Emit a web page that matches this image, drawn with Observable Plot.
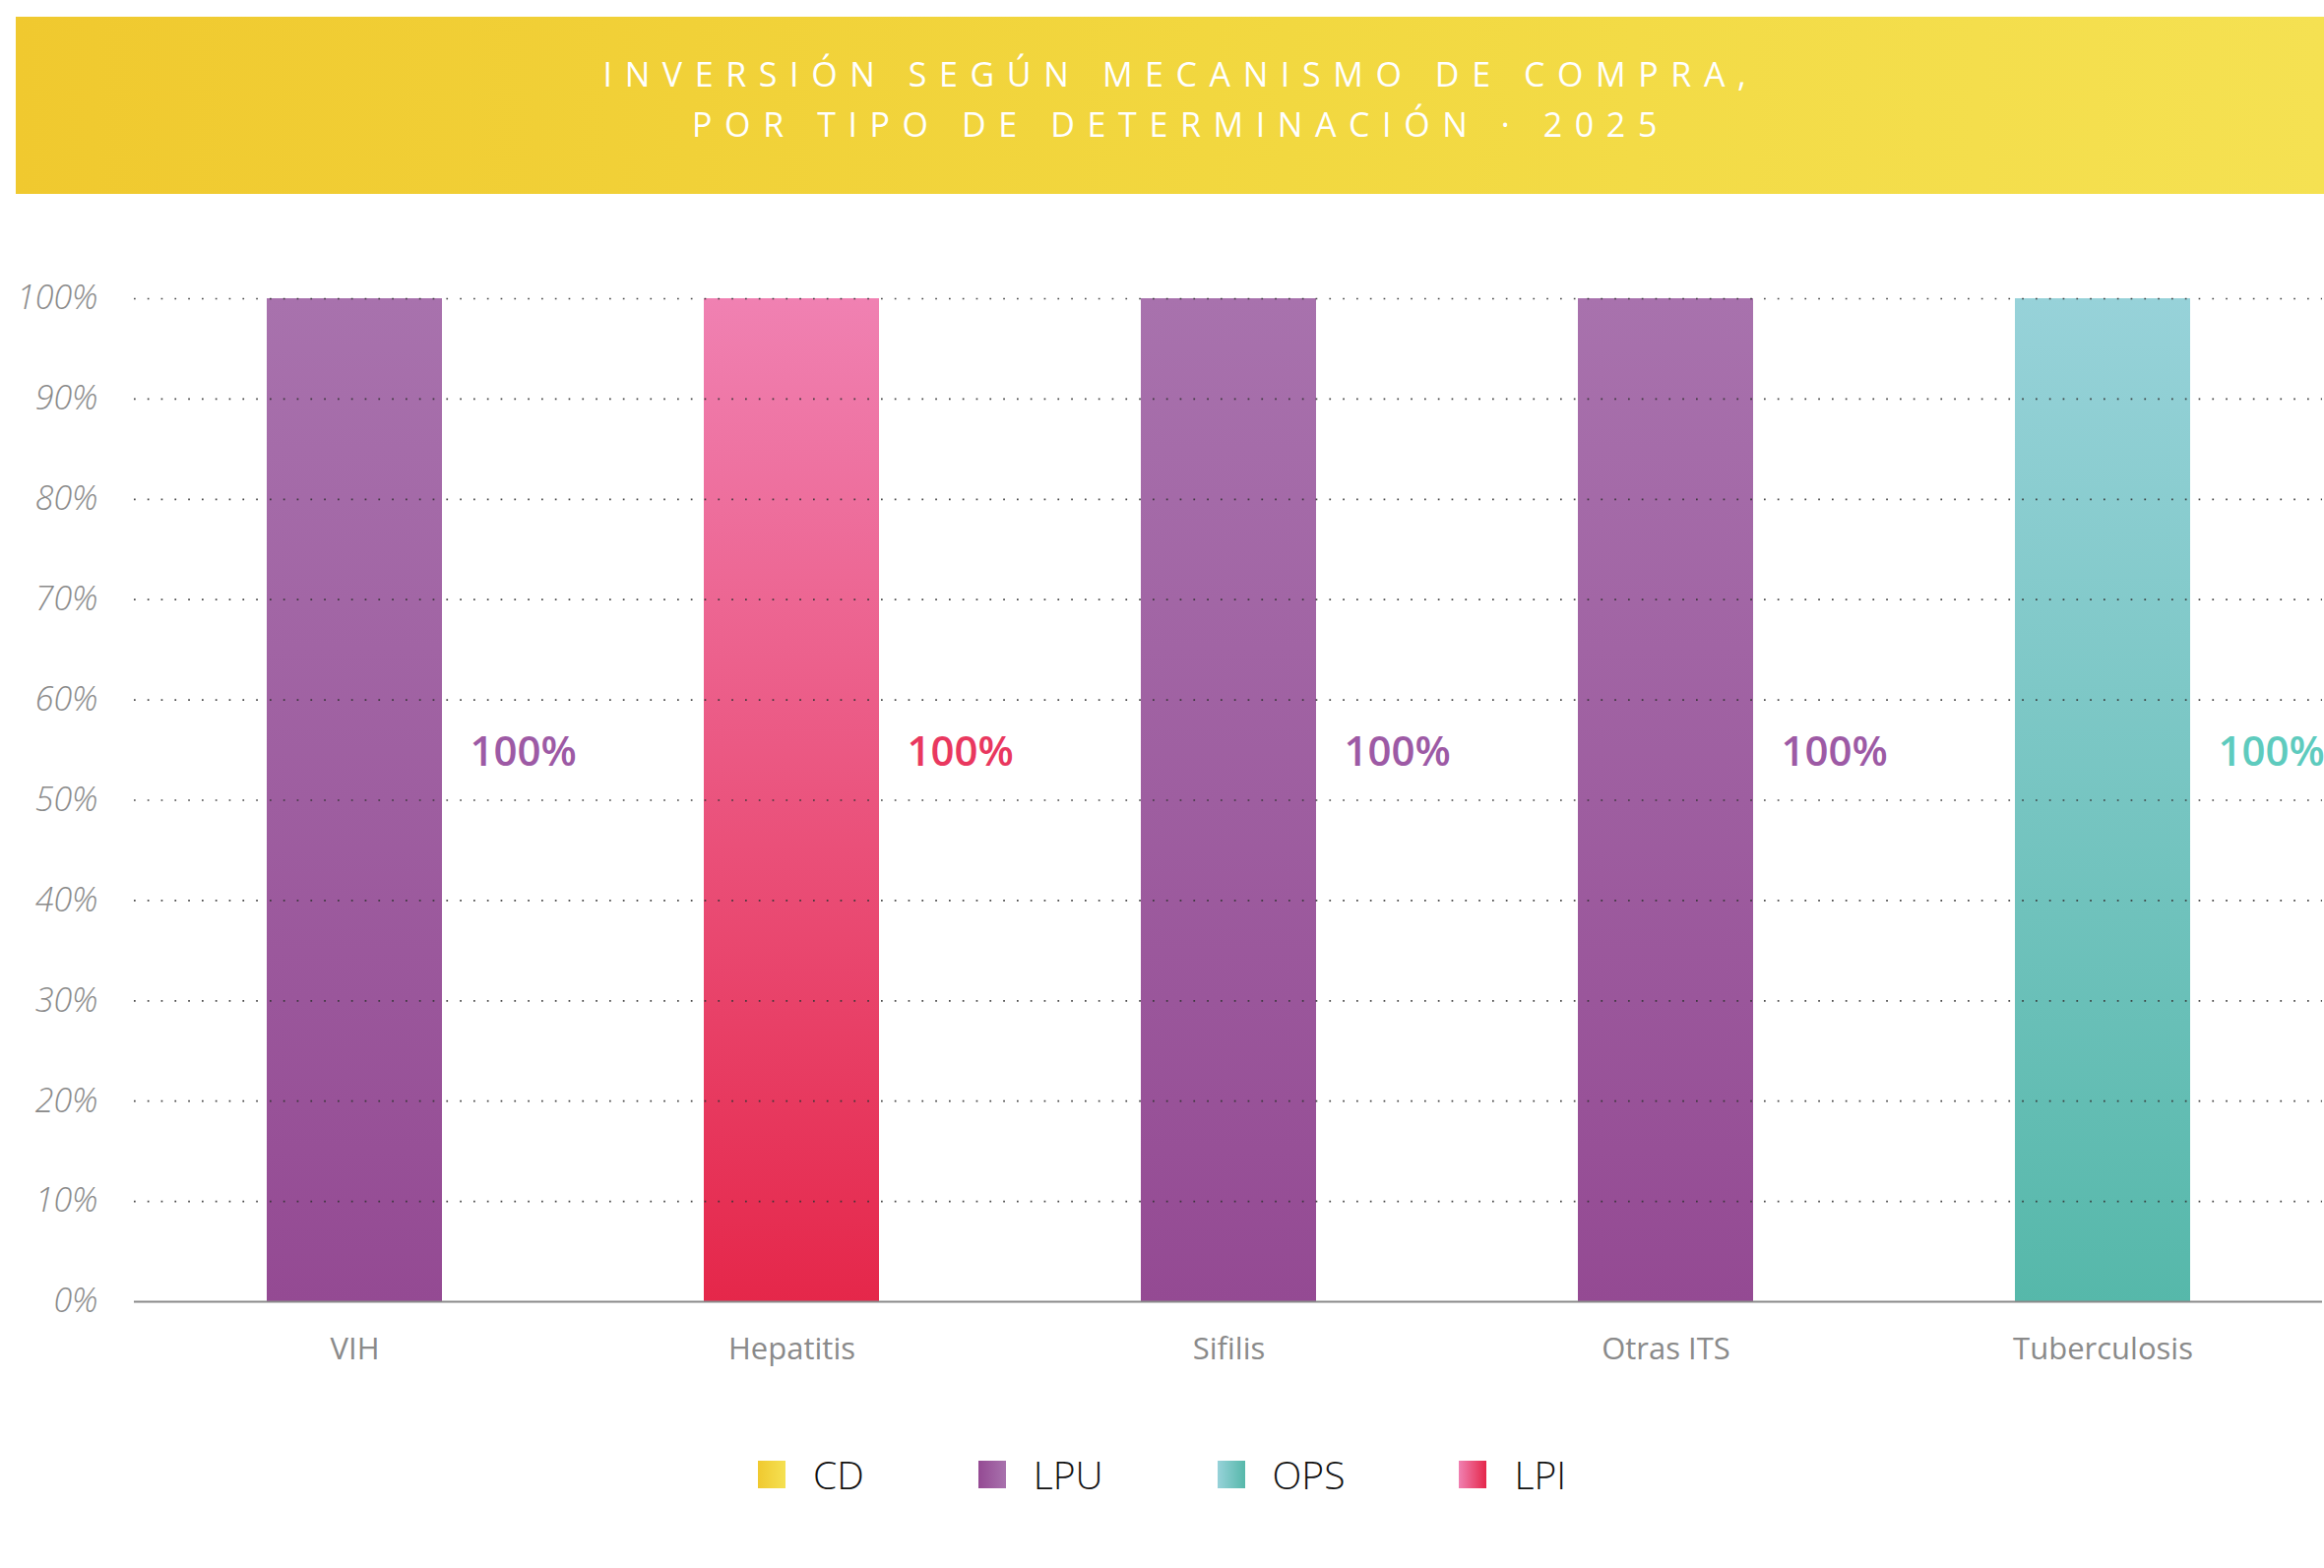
<!DOCTYPE html>
<html>
<head>
<meta charset="utf-8">
<script src="https://cdn.jsdelivr.net/npm/d3@7"></script>
<script src="https://cdn.jsdelivr.net/npm/@observablehq/plot@0.6"></script>
<style>
  html, body { margin: 0; padding: 0; background: #ffffff; }
  #page { position: relative; width: 2361px; height: 1593px; overflow: hidden; background: #fff; font-family: "Open Sans", sans-serif; }
  #banner { position: absolute; left: 16px; right: 0; top: 17px; height: 180px;
    background: linear-gradient(90deg, #f0c92f 0%, #f2d840 55%, #f5e152 100%); }
  .tline { position: absolute; left: 0; right: 0; text-align: center; color: #ffffff;
    font-family: "Open Sans", sans-serif; font-weight: 400; font-size: 34px; letter-spacing: 12.6px;
    height: 40px; line-height: 40px; padding-left: 22px; white-space: nowrap; }
  #chart { position: absolute; left: 0; top: 0; }
  #chart svg [aria-label="y-axis tick label"] text { font-style: italic; font-weight: 300; }
  #legend { position: absolute; left: 0; right: 0; top: 1478px; display: flex; justify-content: center; align-items: center; }
  .item { display: flex; align-items: center; margin: 0 58px; }
  .sw { width: 28px; height: 28px; margin-right: 28px; }
  .lab { font-family: "Open Sans", sans-serif; font-weight: 300; font-size: 39px; color: #111; line-height: 40px; }
</style>
</head>
<body>
<div id="page">
  <svg width="0" height="0" style="position:absolute">
    <defs>
      <linearGradient id="g-LPU" x1="0" y1="0" x2="0" y2="1">
        <stop offset="0" stop-color="#a872ad"/><stop offset="1" stop-color="#944a93"/>
      </linearGradient>
      <linearGradient id="g-LPI" x1="0" y1="0" x2="0" y2="1">
        <stop offset="0" stop-color="#f081b2"/><stop offset="1" stop-color="#e5274a"/>
      </linearGradient>
      <linearGradient id="g-OPS" x1="0" y1="0" x2="0" y2="1">
        <stop offset="0" stop-color="#97d2d9"/><stop offset="1" stop-color="#56b8aa"/>
      </linearGradient>
      <linearGradient id="g-CD" x1="0" y1="0" x2="0" y2="1">
        <stop offset="0" stop-color="#f5e152"/><stop offset="1" stop-color="#f0c92f"/>
      </linearGradient>
    </defs>
  </svg>
  <div id="chart"></div>
  <div id="banner">
    <div class="tline" style="top:38px">INVERSIÓN SEGÚN MECANISMO DE COMPRA,</div>
    <div class="tline" style="top:89px">POR TIPO DE DETERMINACIÓN · 2025</div>
  </div>
  <div id="legend"></div>
</div>
<script>
// ---- data ----
const categorias = ["VIH", "Hepatitis", "Sifilis", "Otras ITS", "Tuberculosis"];
const mecanismos = ["LPU", "LPI", "LPU", "LPU", "OPS"];
const valores = [1, 1, 1, 1, 1];
const leyenda = ["CD", "LPU", "OPS", "LPI"];
const yTicks = [0, 0.1, 0.2, 0.3, 0.4, 0.5, 0.6, 0.7, 0.8, 0.9, 1.0];

// ---- styles ----
const colorTexto = { LPU: "#9d5aa5", LPI: "#e9385f", OPS: "#5ecbbe" };
const gradLeyenda = {
  CD: "linear-gradient(90deg, #f0c92f, #f5e152)",
  LPU: "linear-gradient(90deg, #944a93, #a872ad)",
  OPS: "linear-gradient(90deg, #97d2d9, #56b8aa)",
  LPI: "linear-gradient(90deg, #f081b2, #e5274a)"
};

const data = categorias.map((c, i) => ({ cat: c, mec: mecanismos[i], val: valores[i] }));
const usados = Array.from(new Set(mecanismos));
const pct = d3.format(".0%");

const marks = [];
for (const m of usados) {
  marks.push(Plot.barY(data.filter(d => d.mec === m), { x: "cat", y: "val", fill: `url(#g-${m})` }));
}
marks.push(Plot.gridY(yTicks.filter(t => t > 0), { stroke: "#333", strokeOpacity: 0.9, strokeWidth: 1.7, strokeDasharray: "1.7,12.1" }));
marks.push(Plot.ruleY([0], { stroke: "#8a8a8a", strokeWidth: 2 }));
marks.push(Plot.axisY({ ticks: yTicks, tickFormat: pct, tickSize: 0, tickPadding: 37, fontSize: 34, fill: "#8a8a8a" }));
marks.push(Plot.axisX({ tickSize: 0, tickPadding: 36, fontSize: 31, fill: "#8a8a8a" }));
for (const m of usados) {
  marks.push(Plot.text(data.filter(d => d.mec === m), {
    x: "cat", y: d => d.val / 2, text: d => pct(d.val), fill: colorTexto[m],
    textAnchor: "start", dx: 117, dy: -48, fontSize: 42, fontWeight: 600
  }));
}

const chart = Plot.plot({
  width: 2361,
  height: 1440,
  marginTop: 303,
  marginBottom: 118,
  marginLeft: 136,
  marginRight: 2,
  style: { fontFamily: "Open Sans", background: "transparent", overflow: "visible" },
  x: { domain: categorias, paddingInner: 0.6, paddingOuter: 0.3, label: null, axis: null },
  y: { domain: [0, 1], label: null, axis: null },
  marks
});
document.getElementById("chart").appendChild(chart);

const leg = document.getElementById("legend");
for (const k of leyenda) {
  const it = document.createElement("div");
  it.className = "item";
  const sw = document.createElement("div");
  sw.className = "sw";
  sw.style.background = gradLeyenda[k];
  const lb = document.createElement("div");
  lb.className = "lab";
  lb.textContent = k;
  it.appendChild(sw); it.appendChild(lb);
  leg.appendChild(it);
}
</script>
</body>
</html>
